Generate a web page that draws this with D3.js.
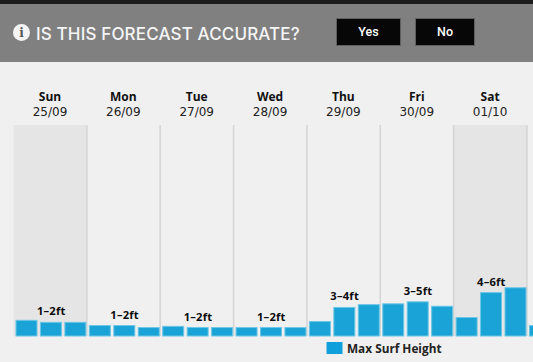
<!DOCTYPE html>
<html>
<head>
<meta charset="utf-8">
<script src="https://cdn.jsdelivr.net/npm/d3@7"></script>
<style>
  html, body { margin: 0; padding: 0; background: #f0f0f0; overflow: hidden; }
  svg { display: block; }
</style>
</head>
<body>
<div class="canvas"></div>
<script>
const days = ['Sun', 'Mon', 'Tue', 'Wed', 'Thu', 'Fri', 'Sat'];
const dates = ['25/09', '26/09', '27/09', '28/09', '29/09', '30/09', '01/10'];
const weekend = ['Sun', 'Sat'];
const ranges = ['1–2ft', '1–2ft', '1–2ft', '1–2ft', '3–4ft', '3–5ft', '4–6ft'];
// index of the bar each range label sits over (middle bar of the day)
const rangeBars = [1, 4, 7, 10, 13, 16, 19];
// max surf height in feet, three readings per day, one spilling into Sunday
const surf = [1.95, 1.7, 1.7, 1.3, 1.3, 1.05, 1.2, 1.05, 1.05, 1.05, 1.05, 1.05,
  1.8, 3.55, 3.9, 4.0, 4.25, 3.7, 2.3, 5.4, 6.0, 1.3];

const dims = { width: 533, height: 362 };
const plot = { left: 13.5, step: 24.45, top: 125, base: 336 };
const dayBars = 3;

const svg = d3.select('.canvas')
  .append('svg')
  .attr('width', dims.width)
  .attr('height', dims.height);

// feedback banner
svg.append('rect').attr('width', dims.width).attr('height', 4).attr('fill', '#1c1c1c');
svg.append('rect').attr('y', 4).attr('width', dims.width).attr('height', 58).attr('fill', '#808080');

svg.append('circle')
  .attr('cx', 21.5).attr('cy', 32.5).attr('r', 8.5)
  .attr('fill', '#f4f4f4');
svg.append('text')
  .attr('x', 21.5).attr('y', 37)
  .attr('text-anchor', 'middle')
  .attr('font-family', '"DejaVu Serif", serif')
  .attr('font-weight', 'bold')
  .attr('font-size', 12)
  .attr('fill', '#555')
  .text('i');

svg.append('text')
  .attr('x', 36).attr('y', 39.5)
  .attr('font-family', 'Inter, sans-serif')
  .attr('font-weight', 500)
  .attr('font-size', 17)
  .attr('letter-spacing', 0.15)
  .attr('fill', '#f5f5f5')
  .text('IS THIS FORECAST ACCURATE?');

const buttons = [
  { label: 'Yes', x: 336.5, w: 64 },
  { label: 'No', x: 415.5, w: 59 }
];
const button = svg.selectAll('.button').data(buttons).enter().append('g').attr('class', 'button');
button.append('rect')
  .attr('x', d => d.x).attr('y', 18.5)
  .attr('width', d => d.w).attr('height', 27)
  .attr('fill', '#070707')
  .attr('stroke', '#5e5e5e');
button.append('text')
  .attr('x', d => d.x + d.w / 2).attr('y', 36)
  .attr('text-anchor', 'middle')
  .attr('font-family', 'Roboto, sans-serif')
  .attr('font-weight', 500)
  .attr('font-size', 12.5)
  .attr('fill', '#fff')
  .text(d => d.label);

// scales
const x = d3.scaleLinear().domain([0, 1]).range([plot.left, plot.left + plot.step]);
const y = d3.scaleLinear().domain([0, 26.25]).range([plot.base, plot.top]);
const dayX = i => x(i * dayBars);

// weekend shading
svg.selectAll('.band')
  .data(days.map((d, i) => ({ d, i })).filter(e => weekend.includes(e.d)))
  .enter().append('rect')
  .attr('class', 'band')
  .attr('x', e => dayX(e.i))
  .attr('y', plot.top)
  .attr('width', x(dayBars) - x(0))
  .attr('height', plot.base - plot.top)
  .attr('fill', '#e5e5e5');

// day separators
svg.selectAll('.sep')
  .data(d3.range(1, days.length + 1))
  .enter().append('line')
  .attr('class', 'sep')
  .attr('x1', i => dayX(i))
  .attr('x2', i => dayX(i))
  .attr('y1', plot.top)
  .attr('y2', plot.base)
  .attr('stroke', '#d4d4d4')
  .attr('stroke-width', 1.5);

// day headers
svg.selectAll('.day')
  .data(days)
  .enter().append('text')
  .attr('class', 'day')
  .attr('x', (d, i) => dayX(i) + 36.5)
  .attr('y', 100.7)
  .attr('text-anchor', 'middle')
  .attr('font-family', '"Open Sans", sans-serif')
  .attr('font-weight', 'bold')
  .attr('font-size', 12)
  .attr('fill', '#111')
  .text(d => d);

svg.selectAll('.date')
  .data(dates)
  .enter().append('text')
  .attr('class', 'date')
  .attr('x', (d, i) => dayX(i) + 36.5)
  .attr('y', 116.3)
  .attr('text-anchor', 'middle')
  .attr('font-family', '"DejaVu Sans", sans-serif')
  .attr('font-size', 12)
  .attr('fill', '#222')
  .text(d => d);

// bars
svg.selectAll('.bar')
  .data(surf)
  .enter().append('rect')
  .attr('class', 'bar')
  .attr('x', (d, i) => x(i) + 2.5)
  .attr('y', d => y(d))
  .attr('width', 21)
  .attr('height', d => y(0) - y(d))
  .attr('fill', '#1aa3d6')
  .attr('stroke', '#6cc6e6')
  .attr('stroke-width', 1);

// range labels
svg.selectAll('.range')
  .data(ranges)
  .enter().append('text')
  .attr('class', 'range')
  .attr('x', (d, i) => x(rangeBars[i]) + 13.3)
  .attr('y', (d, i) => y(surf[rangeBars[i]]) - 7)
  .attr('text-anchor', 'middle')
  .attr('font-family', '"Open Sans", sans-serif')
  .attr('font-weight', 'bold')
  .attr('font-size', 11.2)
  .attr('letter-spacing', 0.2)
  .attr('fill', '#0c0c0c')
  .text(d => d);

// legend
svg.append('rect')
  .attr('x', 326.5).attr('y', 342)
  .attr('width', 16).attr('height', 12)
  .attr('fill', '#0f9fdb');
svg.append('text')
  .attr('x', 347).attr('y', 353)
  .attr('font-family', '"Open Sans", sans-serif')
  .attr('font-weight', 'bold')
  .attr('font-size', 11.8)
  .attr('fill', '#222')
  .text('Max Surf Height');
</script>
</body>
</html>
